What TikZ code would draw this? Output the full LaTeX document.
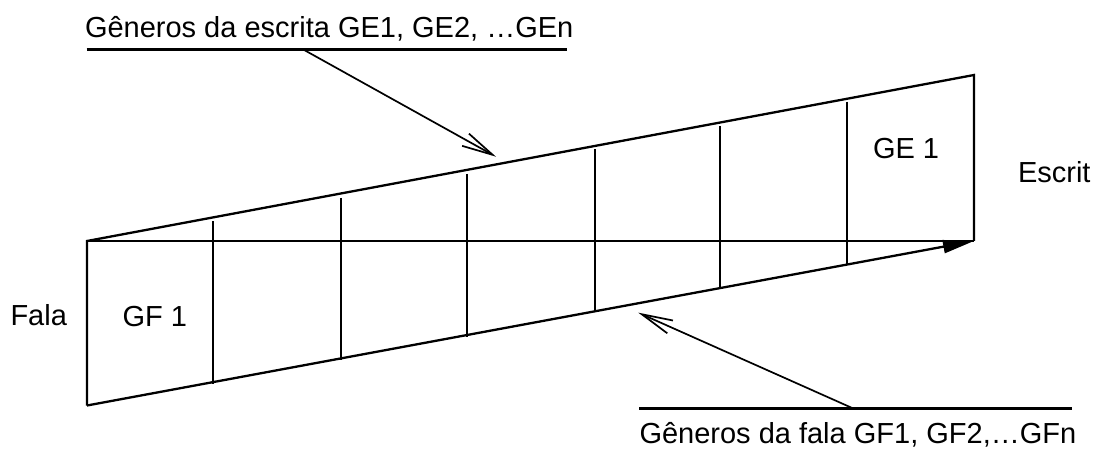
\documentclass[tikz,border=0pt]{standalone}
\usepackage{fontspec}
\setmainfont{Liberation Sans}
\usetikzlibrary{arrows.meta,calc}
\tikzset{
  lbl/.style={anchor=base west,inner sep=0pt,outer sep=0pt,font=\fontsize{29}{34}\selectfont},
  frame/.style={line width=2.3pt},
  divider/.style={line width=1.9pt},
  pointer/.style={line width=1.7pt,-{Straight Barb[length=31pt,width=14pt,line width=1.7pt]}},
  uline/.style={line width=2.3pt},
}
\begin{document}
\begin{tikzpicture}[x=1pt,y=-1pt]
\useasboundingbox (0,0) rectangle (1096,457);
% corners
\coordinate (A) at (87,241);
\coordinate (B) at (87,405.5);
\coordinate (C) at (974,75);
\coordinate (D) at (974,241);
% frame
\draw[frame] (B) -- (A) -- (C) -- (D);
\draw[divider] (A) -- (D);
\draw[frame,-{Triangle[length=31pt,width=13pt]}] (B) -- (D);
% dividers
\foreach \x/\yt/\yb in {213.3/221.4/384.1, 340.7/198.0/360.4, 466.7/174.0/336.8, 595/149.5/312.5, 720/126/289.5, 846.7/101.7/264.6}
  \draw[divider] (\x,\yt) -- (\x,\yb);
% labels
\node[lbl] (top) at (85,37.6) {Gêneros da escrita GE1, GE2, …GEn};
\node[lbl] (bot) at (639.5,443.6) {Gêneros da fala GF1, GF2,…GFn};
\node[lbl] (fala) at (10.5,326) {Fala};
\node[lbl] (escrit) at (1018,183) {Escrit};
\node[lbl] (ge1) at (873,158.6) {GE 1};
\node[lbl] (gf1) at (122.6,326.3) {GF 1};
% underlines and pointers
\coordinate (tul) at (86.7,49.5);
\coordinate (tur) at (567.3,49.5);
\coordinate (tp) at (303.3,49.5);
\coordinate (tt) at (496,156.7);
\coordinate (bul) at (639.3,408.5);
\coordinate (bur) at (1071.7,408.5);
\coordinate (bp) at (853.3,408.5);
\coordinate (bt) at (638.3,312.7);
\draw[uline] (tul) -- (tur);
\draw[uline] (bul) -- (bur);
\draw[pointer] (tp) -- (tt);
\draw[pointer] (bp) -- (bt);
\end{tikzpicture}
\end{document}
